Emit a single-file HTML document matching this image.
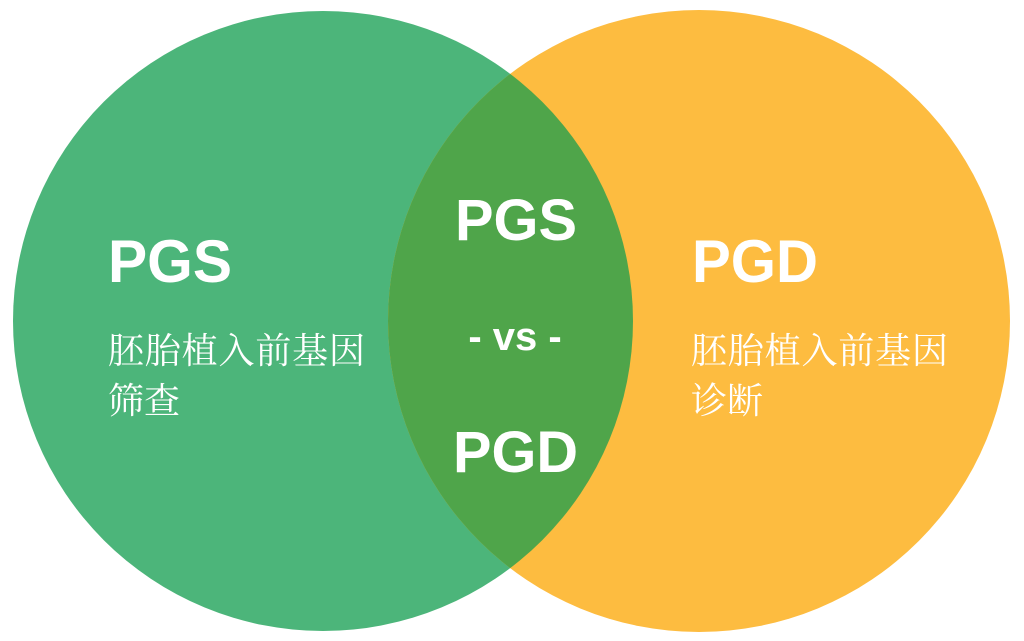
<!DOCTYPE html>
<html><head><meta charset="utf-8"><style>
html,body{margin:0;padding:0;background:#fff;width:1024px;height:641px;overflow:hidden}
svg{display:block}
.b{font-family:"Liberation Sans","Noto Sans CJK SC",sans-serif;font-weight:bold;fill:#fff}
.c{font-family:"Noto Serif CJK SC","Liberation Serif",serif;fill:#fff;font-size:36px}
</style></head><body>
<svg width="1024" height="641" viewBox="0 0 1024 641">
<defs><clipPath id="L"><circle cx="323" cy="321" r="310"/></clipPath></defs>
<circle cx="323" cy="321" r="310" fill="#4cb57a"/>
<circle cx="699" cy="321" r="311" fill="#fdbc40"/>
<circle cx="699" cy="321" r="311" fill="#4fa54a" clip-path="url(#L)"/>
<text class="b" x="108" y="282" font-size="60" textLength="124" lengthAdjust="spacingAndGlyphs">PGS</text>
<text class="c" x="108" y="363" textLength="257">胚胎植入前基因</text>
<text class="c" x="108" y="413">筛查</text>
<text class="b" x="692" y="282" font-size="60" textLength="126" lengthAdjust="spacingAndGlyphs">PGD</text>
<text class="c" x="691" y="363" textLength="257">胚胎植入前基因</text>
<text class="c" x="691" y="413">诊断</text>
<text class="b" x="455" y="240" font-size="58" textLength="122" lengthAdjust="spacingAndGlyphs">PGS</text>
<text class="b" x="515" y="350" font-size="40" text-anchor="middle">- vs -</text>
<text class="b" x="453" y="472" font-size="58" textLength="125" lengthAdjust="spacingAndGlyphs">PGD</text>
</svg>
</body></html>
